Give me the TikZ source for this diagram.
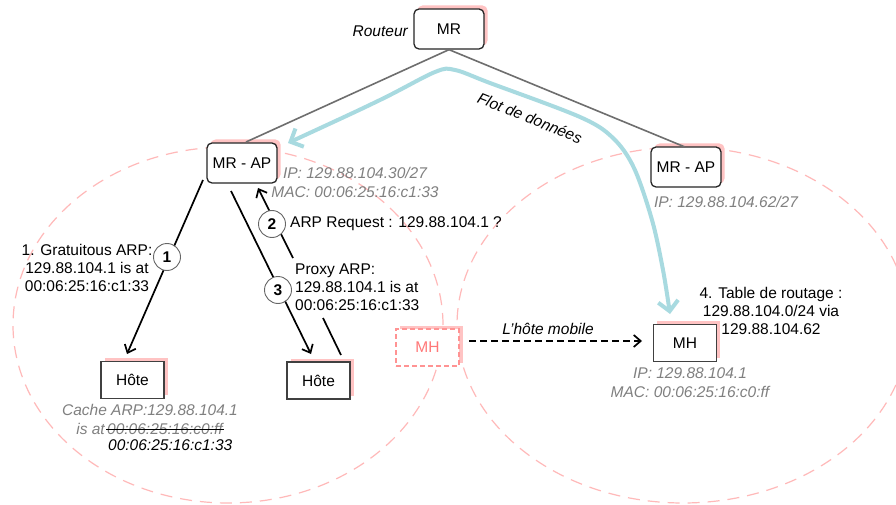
\documentclass[tikz,border=0pt]{standalone}
\usepackage{fontspec}
\setmainfont{Liberation Sans}
\usetikzlibrary{arrows.meta,shadows}
\definecolor{pinkline}{RGB}{255,185,185}
\definecolor{pinkshadow}{RGB}{255,195,195}
\definecolor{flowblue}{RGB}{168,218,224}
\definecolor{graytext}{RGB}{128,128,128}
\definecolor{mhpink}{RGB}{255,120,120}
\definecolor{linegray}{RGB}{110,110,110}
\newcommand\fs{\fontsize{15.5}{18}\selectfont}
\begin{document}
\begin{tikzpicture}[x=1pt,y=-1pt,
  every node/.style={font=\fs},
  pshadow/.style={drop shadow={shadow xshift=3.5pt, shadow yshift=3.5pt, fill=pinkshadow, opacity=1}},
  rbox/.style={draw=black!85, line width=1.3pt, fill=white, rounded corners=5pt, minimum width=70pt, minimum height=40pt, pshadow},
  sbox/.style={draw=black!75, line width=1.4pt, fill=white, minimum width=63pt, minimum height=37pt, pshadow},
  dbox/.style={draw=mhpink!80, dash pattern=on 5pt off 3pt, line width=1.3pt, fill=white, text=mhpink, minimum width=63pt, minimum height=37pt, pshadow},
  zone/.style={draw=pinkline, line width=1.2pt, dash pattern=on 12pt off 8pt},
  gtxt/.style={text=graytext, font=\fs\itshape, align=center, inner sep=0pt},
  btxt/.style={text=black, align=center, inner sep=0pt},
  num/.style={circle, draw=black!60, line width=0.9pt, fill=white, minimum size=27pt, inner sep=0pt, font=\fs\bfseries},
  link/.style={draw=linegray, line width=1.6pt},
  tip/.style={Straight Barb[length=7pt,width=12pt,line width=1.7pt]},
  arr/.style={draw=black, line width=1.7pt, -{Straight Barb[length=7pt,width=12pt,line width=1.7pt]}},
  flow/.style={draw=flowblue, line width=4pt, line cap=round, line join=round, {Straight Barb[length=10pt,width=20pt,line width=4pt]}-{Straight Barb[length=10pt,width=20pt,line width=4pt]}},
]
\useasboundingbox (0,0) rectangle (896,505);
\fill[white] (0,0) rectangle (896,505);

% zones
\draw[zone] (228,325) ellipse [x radius=215pt, y radius=178pt];
\draw[zone] (683,325) ellipse [x radius=226pt, y radius=178pt];

% nodes
\node[rbox] (mr) at (449,29) {MR};
\node[text=black, font=\fs\itshape, anchor=east, inner sep=0pt] (rout) at (408,31) {Routeur};
\node[rbox] (apl) at (242,163) {MR - AP};
\node[rbox] (apr) at (686,167) {MR - AP};
\node[sbox] (h1) at (132.5,380) {Hôte};
\node[sbox] (h2) at (318.5,380.5) {Hôte};
\node[dbox] (mhd) at (427.5,347.5) {MH};
\node[sbox] (mh) at (685,343) {MH};

% links router
\draw[link] (mr.south) -- (246,142);
\draw[link] (mr.south) -- (685,147);

% data flow
\draw[flow] plot[smooth, tension=0.55] coordinates {(288,143) (380,100) (435,72) (455,70) (490,83) (580,117) (613,138) (634,168) (652,220) (663,270) (670,314)};
\node[font=\fs\itshape, rotate=-22] (flot) at (530,118) {Flot de données};

% info texts
\node[gtxt] (ipl) at (355,182.5) {IP: 129.88.104.30/27\\[1pt]MAC: 00:06:25:16:c1:33};
\node[gtxt] (ipr) at (726,202) {IP: 129.88.104.62/27};
\node[gtxt] (ipmh) at (690,383) {IP: 129.88.104.1\\[1pt]MAC: 00:06:25:16:c0:ff};

% ARP arrows
\coordinate (a1s) at (203,180);
\coordinate (a1e) at (127,354);
\draw[arr] (a1s) -- (a1e);
\coordinate (a3s) at (231,191);
\coordinate (a3e) at (311,354);
\draw[arr] (a3s) -- (a3e);
\coordinate (a2s) at (341,355);
\coordinate (a2m) at (323,318);
\coordinate (a2n) at (293,258);
\coordinate (a2e) at (258,188);
\draw[draw=black, line width=1.7pt] (a2s) -- (a2m);
\draw[arr] (a2n) -- (a2e);

\node[num] (n1) at (167,257) {1};
\node[num] (n2) at (272,224) {2};
\node[num] (n3) at (278,290) {3};

\node[btxt] (t1) at (87,268) {1. Gratuitous ARP:\\129.88.104.1 is at\\00:06:25:16:c1:33};
\node[btxt, anchor=west] (t2) at (290,224) {ARP Request : 129.88.104.1 ?};
\node[btxt, anchor=west, align=left] (t3) at (295,287) {Proxy ARP:\\129.88.104.1 is at\\00:06:25:16:c1:33};
\node[btxt] (t4) at (771,311) {4. Table de routage :\\129.88.104.0/24 via\\129.88.104.62};

% cache
\node[gtxt] (c1) at (150,410) {Cache ARP:129.88.104.1};
\node[gtxt, anchor=east] (c2a) at (105,429) {is at};
\node[gtxt, anchor=west] (c2b) at (107,429) {00:06:25:16:c0:ff};
\draw[black, line width=1pt] ([xshift=-1pt]c2b.west) -- ([xshift=1pt]c2b.east);
\node[gtxt, anchor=west, text=black] (c3) at (108,445) {00:06:25:16:c1:33};

% mobile move
\coordinate (ma) at (469,341);
\coordinate (mb) at (642,341);
\draw[draw=black, line width=1.7pt, dash pattern=on 7pt off 4pt, -{Straight Barb[length=7pt,width=12pt,line width=1.7pt]}] (ma) -- (mb);
\node[font=\fs\itshape] (lab) at (548,329) {L’hôte mobile};
\end{tikzpicture}
\end{document}
